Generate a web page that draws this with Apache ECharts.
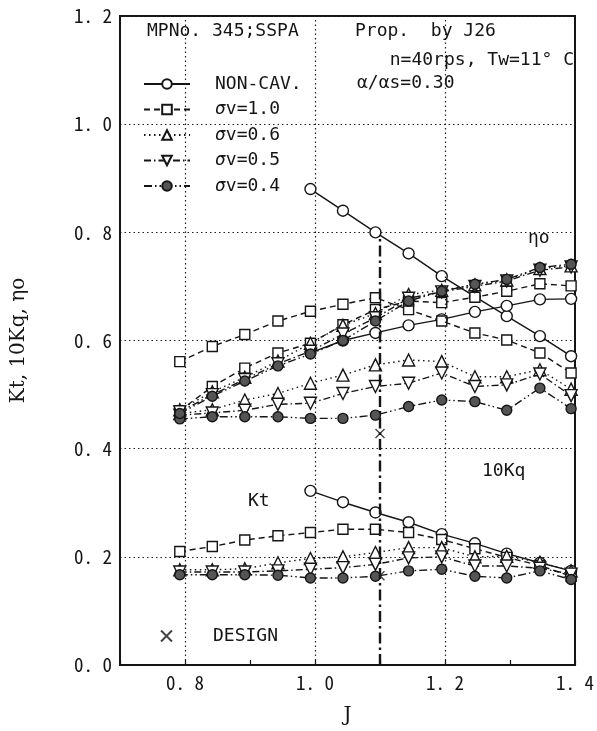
<!DOCTYPE html>
<html><head><meta charset="utf-8">
<script src="https://cdn.jsdelivr.net/npm/echarts@6/dist/echarts.min.js"></script>
<style>html,body{margin:0;padding:0;background:#fff}#c{width:597px;height:731px}</style>
</head><body><div id="c"></div>
<script>
// ---- data ----
const J = [0.792, 0.842, 0.892, 0.943, 0.993, 1.043, 1.093, 1.144, 1.195, 1.246, 1.295, 1.346, 1.394];
const J_NONCAV = [0.993, 1.043, 1.093, 1.144, 1.195, 1.246, 1.295, 1.346, 1.394];

const nonCavKt  = [0.322, 0.301, 0.282, 0.264, 0.242, 0.225, 0.206, 0.189, 0.174];
const nonCavKq10 = [0.880, 0.840, 0.800, 0.761, 0.719, 0.681, 0.645, 0.608, 0.571];
const nonCavEta = [0.577, 0.600, 0.614, 0.628, 0.639, 0.653, 0.664, 0.676, 0.677];

const sv10Kt   = [0.210, 0.219, 0.231, 0.239, 0.245, 0.251, 0.251, 0.245, 0.232, 0.215, 0.199, 0.184, 0.164];
const sv10Kq10 = [0.561, 0.589, 0.611, 0.636, 0.654, 0.667, 0.679, 0.657, 0.636, 0.614, 0.601, 0.577, 0.540];
const sv10Eta  = [0.470, 0.515, 0.549, 0.577, 0.595, 0.629, 0.657, 0.673, 0.670, 0.680, 0.691, 0.705, 0.701];

const sv06Kt   = [0.176, 0.176, 0.178, 0.189, 0.197, 0.200, 0.208, 0.217, 0.217, 0.200, 0.201, 0.190, 0.174];
const sv06Kq10 = [0.465, 0.472, 0.490, 0.502, 0.521, 0.536, 0.555, 0.564, 0.561, 0.533, 0.533, 0.546, 0.510];
const sv06Eta  = [0.472, 0.505, 0.532, 0.562, 0.595, 0.628, 0.650, 0.685, 0.693, 0.703, 0.712, 0.733, 0.738];

const sv05Kt   = [0.172, 0.172, 0.172, 0.174, 0.177, 0.180, 0.186, 0.198, 0.200, 0.183, 0.183, 0.179, 0.168];
const sv05Kq10 = [0.462, 0.466, 0.471, 0.482, 0.484, 0.502, 0.515, 0.521, 0.540, 0.515, 0.518, 0.538, 0.498];
const sv05Eta  = [0.468, 0.500, 0.528, 0.557, 0.580, 0.612, 0.642, 0.678, 0.690, 0.700, 0.710, 0.730, 0.736];

const sv04Kt   = [0.167, 0.167, 0.167, 0.166, 0.161, 0.161, 0.164, 0.174, 0.177, 0.164, 0.161, 0.174, 0.158];
const sv04Kq10 = [0.455, 0.459, 0.459, 0.459, 0.456, 0.456, 0.462, 0.478, 0.490, 0.487, 0.471, 0.512, 0.474];
const sv04Eta  = [0.465, 0.497, 0.525, 0.553, 0.575, 0.600, 0.636, 0.673, 0.691, 0.704, 0.713, 0.735, 0.741];

const designJ = [1.1, 1.1];
const designVal = [0.428, 0.165];
const designLineTop = 0.79;

const xGridValues = [0.8, 1.0, 1.2];
const xLabelValues = [0.8, 1.0, 1.2, 1.4];
const yLabelValues = [0, 0.2, 0.4, 0.6, 0.8, 1.0, 1.2];

const legendNames = ['NON-CAV.', 'σv=1.0', 'σv=0.6', 'σv=0.5', 'σv=0.4'];

// ---- rendering ----
const FONT = "'Noto Sans Mono CJK JP','DejaVu Sans Mono',monospace";
const TFONT = "'DejaVu Sans Mono',monospace";
const SERIF = "'DejaVu Serif','Liberation Serif',serif";
const INK = '#151515';
const pair = (xs, ys) => xs.map((x, i) => [x, ys[i]]);
const fmt = v => v.toFixed(1).replace('.', '. ');

const styles = {
  'NON-CAV.': { symbol: 'circle', size: 11, fill: '#fff', dash: 'solid', rot: 0 },
  'σv=1.0': { symbol: 'rect', size: 10, fill: '#fff', dash: [6, 4], rot: 0 },
  'σv=0.6': { symbol: 'triangle', size: 12, fill: '#fff', dash: [1.5, 3.5], rot: 0 },
  'σv=0.5': { symbol: 'triangle', size: 12, fill: '#fff', dash: [7, 3, 1.5, 3], rot: 180 },
  'σv=0.4': { symbol: 'circle', size: 10, fill: '#555', dash: [8, 3, 1.5, 3, 1.5, 3], rot: 0 }
};

function lineSeries(name, data) {
  const s = styles[name];
  return {
    type: 'line', name, data, z: 3,
    symbol: s.symbol, symbolSize: s.size, symbolRotate: s.rot, showSymbol: true,
    lineStyle: { color: INK, width: 1.4, type: s.dash },
    itemStyle: { color: s.fill, borderColor: INK, borderWidth: 1.4 },
    emphasis: { disabled: true }, animation: false
  };
}

const series = [
  {
    type: 'line', name: 'grid', data: [], silent: true, z: 1,
    markLine: {
      silent: true, symbol: 'none', label: { show: false }, animation: false,
      lineStyle: { color: '#222', width: 1.2, type: [1.5, 3] },
      data: xGridValues.map(v => ({ xAxis: v }))
    }
  },
  {
    type: 'scatter', name: 'DESIGN', z: 2,
    data: pair(designJ, designVal),
    symbol: 'path://M0,0L10,10M10,0L0,10', symbolSize: 9,
    itemStyle: { color: 'rgba(0,0,0,0)', borderColor: INK, borderWidth: 1.4 },
    markLine: {
      silent: true, symbol: 'none', label: { show: false }, animation: false,
      lineStyle: { color: INK, width: 2.4, type: [11, 4, 2.5, 4] },
      data: [[{ coord: [designJ[0], 0] }, { coord: [designJ[0], designLineTop] }]]
    },
    animation: false
  },
  lineSeries('NON-CAV.', pair(J_NONCAV, nonCavKt)),
  lineSeries('NON-CAV.', pair(J_NONCAV, nonCavKq10)),
  lineSeries('NON-CAV.', pair(J_NONCAV, nonCavEta)),
  lineSeries('σv=1.0', pair(J, sv10Kt)),
  lineSeries('σv=1.0', pair(J, sv10Kq10)),
  lineSeries('σv=1.0', pair(J, sv10Eta)),
  lineSeries('σv=0.6', pair(J, sv06Kt)),
  lineSeries('σv=0.6', pair(J, sv06Kq10)),
  lineSeries('σv=0.6', pair(J, sv06Eta)),
  lineSeries('σv=0.5', pair(J, sv05Kt)),
  lineSeries('σv=0.5', pair(J, sv05Kq10)),
  lineSeries('σv=0.5', pair(J, sv05Eta)),
  lineSeries('σv=0.4', pair(J, sv04Kt)),
  lineSeries('σv=0.4', pair(J, sv04Kq10)),
  lineSeries('σv=0.4', pair(J, sv04Eta))
];

const txt = (x, y, text, size, align, italic) => ({
  type: 'text', x, y, z: 10, silent: true,
  style: { text, fill: INK, font: (italic ? 'italic ' : '') + size + 'px ' + TFONT, align: align || 'left', verticalAlign: 'middle' }
});

const option = {
  backgroundColor: '#fff',
  animation: false,
  textStyle: { fontFamily: FONT, color: INK },
  grid: { left: 120, right: 20, top: 16, bottom: 66, show: true, borderColor: INK, borderWidth: 2, backgroundColor: 'transparent' },
  xAxis: {
    type: 'value', min: 0.7, max: 1.4, interval: 0.1,
    name: 'J', nameLocation: 'middle', nameGap: 41,
    nameTextStyle: { fontFamily: SERIF, fontSize: 20, color: INK },
    axisLine: { show: true, lineStyle: { color: INK, width: 2 } },
    axisTick: { show: true, inside: true, length: 5, lineStyle: { color: INK, width: 1.2 } },
    splitLine: { show: false },
    axisLabel: {
      fontFamily: FONT, fontSize: 19, color: INK, margin: 8,
      formatter: v => xLabelValues.some(t => Math.abs(t - v) < 1e-6) ? fmt(v) : ''
    }
  },
  yAxis: {
    type: 'value', min: 0, max: 1.2, interval: 0.2,
    name: 'Kt, 10Kq, ηo', nameLocation: 'middle', nameGap: 91, nameRotate: 90,
    nameTextStyle: { fontFamily: SERIF, fontSize: 20, color: INK },
    axisLine: { show: true, lineStyle: { color: INK, width: 2 } },
    axisTick: { show: false },
    splitLine: { show: true, lineStyle: { color: '#222', width: 1.2, type: [1.5, 3] } },
    axisLabel: {
      fontFamily: FONT, fontSize: 19, color: INK, margin: 8,
      formatter: v => yLabelValues.some(t => Math.abs(t - v) < 1e-6) ? fmt(v) : ''
    }
  },
  legend: [
    {
      data: legendNames, orient: 'vertical', left: 143, top: 75, padding: 0,
      itemWidth: 46, itemHeight: 12, itemGap: 7.5, selectedMode: false,
      formatter: n => n.replace('σ', '{i|σ}'),
      textStyle: {
        fontFamily: TFONT, fontSize: 18, color: INK, padding: [0, 0, 0, 20],
        rich: { i: { fontFamily: TFONT, fontSize: 18, fontStyle: 'italic', color: INK } }
      }
    },
    {
      data: ['DESIGN'], orient: 'vertical', left: 160, top: 627, padding: 0,
      itemWidth: 11, itemHeight: 11, selectedMode: false,
      textStyle: { fontFamily: TFONT, fontSize: 18, color: INK, padding: [0, 0, 0, 36] }
    }
  ],
  graphic: [
    txt(147, 31, 'MPNo. 345;SSPA', 18),
    txt(355, 31, 'Prop.  by J26', 18),
    txt(574, 60, 'n=40rps, Tw=11° C', 18, 'right'),
    txt(357, 83, 'α/αs=0.30', 18),
    txt(528, 238, 'ηo', 18),
    txt(482, 471, '10Kq', 18),
    txt(248, 501, 'Kt', 18)
  ],
  series
};

const chart = echarts.init(document.getElementById('c'), null, { renderer: 'canvas' });
chart.setOption(option);
</script></body></html>
